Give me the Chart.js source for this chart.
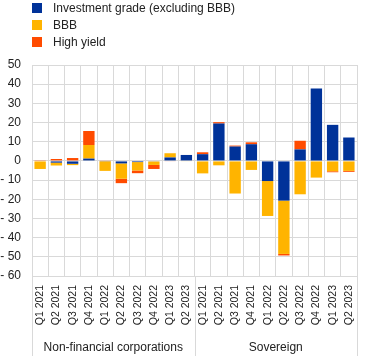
<!DOCTYPE html>
<html>
<head>
<meta charset="utf-8">
<script src="https://cdn.jsdelivr.net/npm/chart.js@4"></script>
<style>
  html, body { margin: 0; padding: 0; background: #fff; }
  #wrap { position: relative; width: 372px; height: 359px; }
  #legend { position: absolute; left: 32px; top: 0; font-family: "Liberation Sans", Arial, sans-serif; font-size: 12px; color: #222; }
  .item { position: absolute; left: 0; height: 12px; white-space: nowrap; }
  .sw { position: absolute; left: 0; top: 1px; width: 10px; height: 10px; }
  .lab { position: absolute; left: 21px; top: -1px; }
</style>
</head>
<body>
<div id="wrap">
  <canvas id="c" width="372" height="359"></canvas>
  <div id="legend"></div>
</div>
<script>
const categories = [
  "Q1 2021","Q2 2021","Q3 2021","Q4 2021","Q1 2022","Q2 2022","Q3 2022","Q4 2022","Q1 2023","Q2 2023",
  "Q1 2021","Q2 2021","Q3 2021","Q4 2021","Q1 2022","Q2 2022","Q3 2022","Q4 2022","Q1 2023","Q2 2023"
];
const groups = ["Non-financial corporations", "Sovereign"];
const seriesNames = ["Investment grade (excluding BBB)", "BBB", "High yield"];
const investmentGrade = [0, -0.9, -1.5, 1.2, -0.2, -1.3, -0.6, -0.3, 1.8, 3.1, 3.5, 19.5, 7.5, 8.7, -10.5, -20.7, 6, 37.8, 18.8, 12.2];
const bbb = [-4.2, -1.5, -0.7, 7.1, -5, -8, -4.4, -1.8, 2.2, -0.3, -6.5, -2.3, -17, -4.7, -18.2, -27.8, -17.4, -8.7, -5.4, -5.2];
const highYield = [0.4, 1, 1.5, 7.3, 0.2, -2.3, -1.4, -2.1, -0.3, 0, 1, 0.7, 0.5, 1, 0, -0.8, 4.5, 0, -0.5, -0.5];
const yTicks = [50, 40, 30, 20, 10, 0, -10, -20, -30, -40, -50, -60];
const colors = ["#003299", "#FFB400", "#FF4B00"];

const FONT = "'Liberation Sans', Arial, sans-serif";

// legend
const leg = document.getElementById('legend');
seriesNames.forEach((n, i) => {
  const d = document.createElement('div');
  d.className = 'item';
  d.style.top = (2 + i * 17) + 'px';
  d.innerHTML = '<span class="sw" style="background:' + colors[i] + '"></span><span class="lab">' + n + '</span>';
  leg.appendChild(d);
});

const groupPlugin = {
  id: 'groups',
  afterDraw(chart) {
    const ctx = chart.ctx;
    const area = chart.chartArea;
    const n = categories.length;
    const w = (area.right - area.left) / n;
    ctx.save();
    ctx.strokeStyle = '#d9d9d9';
    ctx.lineWidth = 1;
    [0, 10, 20].forEach(k => {
      const x = Math.round(area.left + k * w) + 0.5;
      ctx.beginPath();
      ctx.moveTo(x, area.bottom);
      ctx.lineTo(x, 356);
      ctx.stroke();
    });
    ctx.fillStyle = '#222';
    ctx.font = '12px ' + FONT;
    ctx.textAlign = 'center';
    ctx.textBaseline = 'middle';
    ctx.fillText(groups[0], area.left + 5 * w, 348);
    ctx.fillText(groups[1], area.left + 15 * w, 348);
    ctx.restore();
  }
};

new Chart(document.getElementById('c'), {
  type: 'bar',
  data: {
    labels: categories,
    datasets: [
      { label: seriesNames[0], data: investmentGrade, backgroundColor: colors[0] },
      { label: seriesNames[1], data: bbb, backgroundColor: colors[1] },
      { label: seriesNames[2], data: highYield, backgroundColor: colors[2] }
    ]
  },
  options: {
    responsive: false,
    animation: false,
    events: [],
    layout: { padding: { top: 65, right: 15, left: 0, bottom: 0 } },
    datasets: { bar: { categoryPercentage: 1, barPercentage: 0.7, borderWidth: 0 } },
    plugins: { legend: { display: false }, tooltip: { enabled: false } },
    scales: {
      x: {
        stacked: true,
        afterFit(s) { s.height = 83; },
        border: { display: false },
        grid: { color: '#d9d9d9', lineWidth: 1, drawTicks: false, offset: true },
        ticks: {
          autoSkip: false, minRotation: 90, maxRotation: 90, padding: 9,
          color: '#222', font: { family: FONT, size: 10.5 }
        }
      },
      y: {
        stacked: true,
        min: -60, max: 50,
        afterFit(s) { s.width = 32; },
        afterBuildTicks(s) { s.ticks = yTicks.map(v => ({ value: v })); },
        border: { display: false },
        grid: { color: '#d9d9d9', lineWidth: 1, drawTicks: false },
        ticks: {
          padding: 11, color: '#222', font: { family: FONT, size: 12 },
          callback: v => v < 0 ? '- ' + Math.abs(v) : String(v)
        }
      }
    }
  },
  plugins: [groupPlugin]
});
</script>
</body>
</html>
